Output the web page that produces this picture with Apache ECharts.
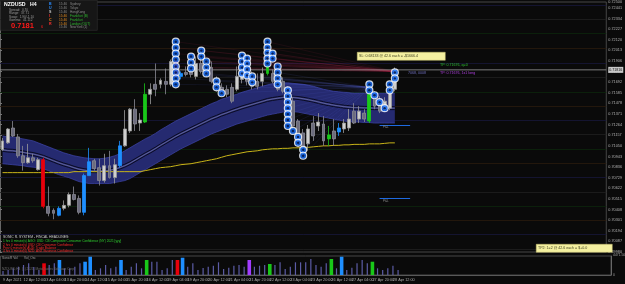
<!DOCTYPE html>
<html><head><meta charset="utf-8">
<script src="https://cdn.jsdelivr.net/npm/echarts/dist/echarts.min.js"></script>
<style>html,body{margin:0;padding:0;background:#0a0a0a;}#c{width:625px;height:284px;}</style>
</head><body><div id="c"></div>
<script>
// ---------- DATA ----------
const timeLabels = ['9 Apr 2021','12 Apr 12:00','13 Apr 04:00','13 Apr 20:00','14 Apr 12:00','15 Apr 04:00','15 Apr 20:00','16 Apr 12:00','19 Apr 04:00','19 Apr 20:00','20 Apr 12:00','21 Apr 04:00','21 Apr 20:00','22 Apr 12:00','23 Apr 04:00','23 Apr 20:00','26 Apr 12:00','27 Apr 04:00','27 Apr 20:00','28 Apr 12:00'];
// candle kind: w bull, g bear, r red spike, b blue spike, G green spike
const kind = ['w','w','g','g','g','w','g','w','r','g','g','b','w','w','g','g','b','b','g','g','w','g','w','b','w','w','g','w','G','w','g','w','g','w','r','b','g','g','w','g','g','g','g','g','g','g','w','w','g','g','g','w','G','g','g','g','g','g','g','g','w','g','w','g','G','g','b','w','w','g','w','g','G','g','g','w','w','w'];
const openP = [.7101,.7108,.7123,.7114,.7095,.7088,.7093,.7081,.7091,.7044,.7040,.7035,.7042,.7045,.7056,.7052,.7038,.7075,.7090,.7083,.7070,.7085,.7073,.7085,.7105,.7120,.7142,.7128,.7129,.7157,.7167,.7167,.7170,.7167,.7190,.7175,.7179,.7180,.7175,.7188,.7184,.7184,.7170,.7164,.7162,.7164,.7162,.7172,.7178,.7175,.7170,.7170,.7178,.7178,.7173,.7170,.7162,.7150,.7130,.7118,.7107,.7128,.7125,.7127,.7112,.7120,.7119,.7122,.7123,.7140,.7132,.7138,.7130,.7155,.7150,.7142,.7143,.7162];
const closeP = [.7110,.7122,.7115,.7095,.7088,.7093,.7090,.7091,.7044,.7037,.7037,.7042,.7045,.7056,.7051,.7038,.7075,.7089,.7082,.7070,.7085,.7073,.7086,.7105,.7122,.7142,.7127,.7131,.7157,.7162,.7162,.7171,.7167,.7190,.7175,.7178,.7177,.7177,.7188,.7180,.7178,.7170,.7164,.7158,.7157,.7150,.7175,.7180,.7170,.7165,.7165,.7178,.7185,.7170,.7162,.7160,.7145,.7125,.7110,.7103,.7122,.7115,.7129,.7110,.7116,.7112,.7123,.7128,.7132,.7128,.7140,.7132,.7157,.7145,.7140,.7150,.7163,.7182];
const lowP = [.7100,.7107,.7114,.7093,.7080,.7087,.7088,.7080,.7042,.7034,.7031,.7034,.7040,.7043,.7050,.7036,.7035,.7075,.7080,.7065,.7068,.7072,.7067,.7083,.7104,.7118,.7120,.7120,.7128,.7147,.7155,.7163,.7157,.7165,.7172,.7172,.7175,.7174,.7172,.7178,.7175,.7168,.7160,.7155,.7154,.7148,.7160,.7168,.7166,.7162,.7162,.7165,.7176,.7168,.7160,.7158,.7142,.7122,.7105,.7095,.7100,.7110,.7120,.7105,.7105,.7105,.7115,.7118,.7120,.7127,.7128,.7129,.7128,.7142,.7138,.7140,.7141,.7160];
const highP = [.7113,.7123,.7130,.7117,.7105,.7107,.7097,.7093,.7093,.7064,.7042,.7044,.7050,.7058,.7064,.7055,.7077,.7103,.7092,.7092,.7097,.7100,.7092,.7110,.7141,.7143,.7152,.7138,.7168,.7168,.7188,.7173,.7183,.7192,.7195,.7180,.7185,.7188,.7195,.7202,.7190,.7190,.7175,.7168,.7166,.7168,.7185,.7188,.7190,.7180,.7178,.7184,.7190,.7182,.7178,.7174,.7165,.7154,.7132,.7122,.7126,.7135,.7138,.7135,.7125,.7132,.7128,.7132,.7142,.7148,.7145,.7142,.7167,.7160,.7155,.7154,.7166,.7184];
const bandUpper = [.71150,.71140,.71140,.71130,.71120,.71110,.71100,.71080,.71060,.71040,.71020,.71000,.70980,.70965,.70950,.70940,.70930,.70925,.70920,.70920,.70925,.70935,.70950,.70970,.71000,.71030,.71060,.71090,.71120,.71145,.71175,.71210,.71240,.71270,.71300,.71325,.71350,.71375,.71400,.71425,.71450,.71475,.71495,.71520,.71535,.71555,.71570,.71590,.71605,.71620,.71635,.71650,.71665,.71675,.71680,.71685,.71685,.71680,.71675,.71670,.71660,.71650,.71635,.71620,.71610,.71600,.71595,.71590,.71585,.71580,.71580,.71580,.71580,.71580,.71580,.71580,.71580,.71580];
const bandLower = [.70870,.70865,.70860,.70855,.70850,.70840,.70835,.70830,.70820,.70800,.70780,.70760,.70745,.70730,.70710,.70690,.70680,.70670,.70670,.70670,.70670,.70670,.70680,.70690,.70700,.70720,.70750,.70780,.70810,.70840,.70870,.70900,.70930,.70960,.70990,.71020,.71045,.71070,.71095,.71120,.71145,.71170,.71190,.71210,.71230,.71250,.71270,.71285,.71300,.71315,.71330,.71345,.71360,.71370,.71380,.71390,.71395,.71395,.71390,.71380,.71370,.71360,.71350,.71340,.71330,.71320,.71310,.71300,.71295,.71290,.71290,.71285,.71285,.71280,.71280,.71280,.71280,.71280];
const yellowMA = [.70780,.70780,.70780,.70780,.70780,.70780,.70780,.70780,.70780,.70780,.70780,.70780,.70780,.70780,.70790,.70790,.70790,.70790,.70790,.70790,.70790,.70790,.70790,.70790,.70790,.70790,.70790,.70790,.70800,.70810,.70820,.70830,.70835,.70840,.70850,.70860,.70865,.70870,.70880,.70890,.70900,.70910,.70920,.70935,.70950,.70960,.70970,.70980,.70990,.70995,.71000,.71010,.71015,.71020,.71020,.71025,.71025,.71030,.71030,.71035,.71035,.71040,.71045,.71050,.71050,.71055,.71055,.71060,.71060,.71065,.71065,.71065,.71070,.71070,.71070,.71075,.71080,.71080];
const volume = [940,1175,1575,1950,2350,2750,1880,1175,2750,2350,2750,3525,1575,1575,1950,2750,3125,4300,1175,1575,2350,1575,1950,3525,1175,1950,2750,1575,3525,3125,3125,1175,1575,3525,3525,4065,1950,2750,1175,1645,1950,2185,2985,1410,1715,2185,2350,1950,3525,1950,2185,2350,2585,2350,2985,1410,1950,2985,2985,2985,3760,2350,1950,2750,3760,1575,4300,1175,1715,2750,3525,2750,3125,1575,1175,1575,2185,1175];
const volKind = ['n','n','n','n','n','n','n','n','r','n','n','b','n','n','n','n','b','b','n','n','n','n','n','b','n','n','n','n','G','n','n','n','n','n','r','b','n','n','n','n','n','n','n','n','n','n','n','n','p','n','n','n','G','n','n','n','n','n','n','n','n','n','n','n','G','n','b','n','n','n','n','n','G','n','n','n','n','n'];
// dot columns: bar index + price levels
const dotBars   = [34,37,39,40,42,43,47,48,49,52,53,54,56,57,58,59,72,73,74,75,76,77];
const dotLevels = [
 [.7210,.7204,.7198,.7192,.7185,.7179,.7173,.7167],[.7195,.7189,.7183],[.7201,.7195],[.7190,.7184,.7178],[.7170,.7164],[.7158],
 [.7196,.7190,.7184,.7178],[.7193,.7188,.7182,.7176],[.7175,.7169],[.7210,.7204,.7199,.7193,.7188],[.7198,.7193],[.7185,.7179,.7173,.7167],
 [.7161,.7155,.7149,.7143,.7137,.7131,.7125],[.7120],[.7114,.7108],[.7101,.7095],[.7167,.7161],[.7156],[.7149],[.7143],[.7167,.7161],[.7179,.7173]];
// horizontal levels (navy, grey, green, brown cycle)
const levelPrices = [.72470,.72330,.72180,.72030,.71880,.71740,.71590,.71450,.71310,.71170,.71020,.70870,.70730,.70580,.70440,.70300,.70160,.70010];
const levelKinds  = ['o','v','k','e','o','v','k','e','o','v','k','e','o','v','k','e','o','v'];
const bidPrice = 0.71816;
const pivotLines = [0.71260, 0.70520];
const priceMin = 0.69980, priceMax = 0.72500, priceStep = 0.00107;
const volMax = 4471.5;

// ---------- BUILD ----------
const NCAT = 119;
const cats = Array.from({length: NCAT}, (_, i) => String(i));
const kindColor = {r:'#e8000b', b:'#1e8fff', G:'#19c819', p:'#a23cff'};
const candleData = kind.map((k, i) => {
  const it = {value: [openP[i], closeP[i], lowP[i], highP[i]]};
  if (kindColor[k]) it.itemStyle = {color: kindColor[k], color0: kindColor[k], borderColor: kindColor[k], borderColor0: kindColor[k]};
  return it;
});
const dots = [];
dotBars.forEach((b, j) => dotLevels[j].forEach(p => dots.push([b, p])));
const fan = [];
dots.forEach(d => {
  if (d[0] > 59) return;
  const red = d[1] >= 0.7180;
  fan.push({coords: [d, red ? [77, 0.7180] : [72, 0.7164]], lineStyle: {color: red ? '#b0284a' : '#5a66d8'}});
});
const levelColor = {v:'#1f1f1f', k:'#0b260b', e:'#2a1b0c', o:'#16163a'};
const levelLines = levelPrices.map((p, i) => ({coords: [[0, p], [1, p]], lineStyle: {color: levelColor[levelKinds[i]]}}));
const center = bandUpper.map((u, i) => (u + bandLower[i]) / 2);
const bandDiff = bandUpper.map((u, i) => u - bandLower[i]);
const volNormal = volume.map((v, i) => volKind[i] === 'n' ? v : '-');
const volSpike = volume.map((v, i) => volKind[i] !== 'n' ? {value: v, itemStyle: {color: kindColor[volKind[i]]}} : '-');

const F = 'Liberation Sans, Arial, sans-serif';
function txt(x, y, s, fill, size, weight) {
  return {type:'text', left:x, top:y, silent:true, z:100, style:{text:s, fill:fill, fontSize:size||3.6, fontFamily:F, fontWeight:weight||'normal'}};
}
const graphics = [
  {type:'rect', left:0, top:0, z:99, shape:{width:97, height:30}, style:{fill:'#161616', stroke:'#303030', lineWidth:0.6}},
  txt(4, 2, 'NZDUSD   H4', '#ffffff', 5.2, 'bold'),
  txt(9, 8.5, 'Spread:  0.70', '#9a9a9a', 3.2),
  txt(9, 12, 'Range:  37.71', '#9a9a9a', 3.2),
  txt(9, 15.5, 'Swap:  1.90/-1.10', '#9a9a9a', 3.2),
  txt(9, 19, 'Gamma:  41.112', '#9a9a9a', 3.2),
  txt(11, 21.5, '0.7181', '#ff1a1a', 7.5, 'bold'),
  txt(41, 24.5, '6', '#ff1a1a', 4),
  txt(49, 2, 'B', '#2a8cff', 3.6, 'bold'), txt(49, 6, 'U', '#2a8cff', 3.6, 'bold'), txt(49, 10, 'S', '#c8c8c8', 3.6, 'bold'),
  txt(49, 14, 'I', '#ff3030', 3.6, 'bold'), txt(49, 18, 'C', '#ff8c1a', 3.6, 'bold'), txt(49, 22, 'R', '#ff3030', 3.6, 'bold'),
  txt(59, 2.5, '15:46', '#8a8a8a', 3.2), txt(70, 2.5, 'Sydney', '#8a8a8a', 3.2),
  txt(59, 6.5, '15:46', '#8a8a8a', 3.2), txt(70, 6.5, 'Tokyo', '#8a8a8a', 3.2),
  txt(59, 10.5, '15:46', '#8a8a8a', 3.2), txt(70, 10.5, 'HongKong', '#8a8a8a', 3.2),
  txt(59, 14.5, '15:46', '#e08a20', 3.2), txt(70, 14.5, 'Frankfurt (B)', '#2fb82f', 3.2),
  txt(59, 18.5, '15:46', '#e08a20', 3.2), txt(70, 18.5, 'Frankfurt', '#2fb82f', 3.2),
  txt(59, 22.5, '15:46', '#e08a20', 3.2), txt(70, 22.5, 'London (OUT)', '#2fb82f', 3.2),
  txt(59, 26, '15:46', '#8a8a8a', 3.2), txt(70, 26, 'NewYork (1)', '#8a8a8a', 3.2),
  // headlines
  txt(3, 235.5, 'SONIC R. SYSTEM - FINCAL HEADLINES:', '#d0d0d0', 3.4),
  txt(3, 240, '1 hrs 0 minute(s) AGO: USD: CB Composite Consumer Confidence (NY) 2021 [yyy]', '#2fd02f', 3.2),
  txt(3, 243.3, '2 hrs 0 minute(s) USD: CB Consumer Confidence', '#ff2a2a', 3.2),
  txt(3, 246.6, 'Prev 0 minute(s) AUD: Trade Balance', '#ff2a2a', 3.2),
  txt(3, 249.9, '4 hrs 0 minute(s) NZD: ANZ Business Confidence', '#ff2a2a', 3.2),
  // volume panel header / copyright
  txt(2, 257, 'SonicR Vol', '#a0a0a0', 3.2), txt(24, 257, 'Vol_Osc', '#a0a0a0', 3.2),
  txt(2, 268, 'NZDUSD,H4  (c) 2021, MetaQuotes Software Corp.', '#6a6a6a', 3.2),
  // trade boxes
  {type:'rect', left:357, top:52, z:99, shape:{width:88, height:8}, style:{fill:'#f4f0a0', stroke:'#c8c070', lineWidth:0.5}},
  txt(359, 53.5, 'SL: 0.68133 @ 42.6 each = -$1666.4', '#404020', 3.6),
  {type:'rect', left:536, top:244, z:99, shape:{width:76, height:8}, style:{fill:'#f4f0a0', stroke:'#c8c070', lineWidth:0.5}},
  txt(538, 245.5, 'TP2: 1=2 @ 42.6 each = $+0.0', '#404020', 3.6),
  txt(440, 62.5, 'TP: 0.71676, q=0', '#2fc02f', 3.6),
  txt(408, 71, '7068, 0008', '#7070c0', 3.6),
  txt(440, 71, 'TP: 0.71676, 1x1 long', '#b040e0', 3.6),
  txt(383, 125.5, 'P&L', '#8a8a8a', 3),
  txt(383, 199.5, 'P&L', '#8a8a8a', 3),
  txt(613, 254, volMax.toFixed(2), '#a0a0a0', 3.4)
];

const option = {
  backgroundColor: '#0a0a0a',
  animation: false,
  grid: [
    {left: 0, top: 0, width: 611, height: 252, show: true, borderColor: '#555', borderWidth: 0.8, backgroundColor: 'transparent'},
    {left: 0, top: 256, width: 611, height: 19, show: true, borderColor: '#555', borderWidth: 0.8}
  ],
  xAxis: [
    {type: 'category', data: cats, gridIndex: 0, boundaryGap: true, axisLine: {show: false}, axisTick: {show: false}, axisLabel: {show: false}},
    {type: 'category', data: cats, gridIndex: 1, boundaryGap: true, axisLine: {show: true, lineStyle: {color: '#666', width: 0.8}}, axisTick: {show: false},
      axisLabel: {show: true, interval: 0, color: '#a8a8a8', fontSize: 3.8, fontFamily: F, align: 'left', margin: 2.5, hideOverlap: false,
        formatter: (v, i) => (i < kind.length && i % 4 === 0) ? timeLabels[i / 4] : ''}},
    {type: 'category', data: cats, gridIndex: 1, boundaryGap: true, show: false},
    {type: 'value', gridIndex: 0, min: 0, max: 1, show: false}
  ],
  yAxis: [
    {type: 'value', gridIndex: 0, position: 'right', min: priceMin, max: priceMax, interval: priceStep,
      axisLine: {show: true, lineStyle: {color: '#777', width: 0.8}}, axisTick: {show: true, length: 2, lineStyle: {color: '#777'}},
      axisLabel: {color: '#b0b0b0', fontSize: 3.8, fontFamily: F, margin: 2, formatter: v => v.toFixed(5)}, splitLine: {show: false}},
    {type: 'value', gridIndex: 1, position: 'right', min: 0, max: volMax, interval: volMax,
      axisLine: {show: true, lineStyle: {color: '#777', width: 0.8}}, axisTick: {show: false},
      axisLabel: {color: '#a0a0a0', fontSize: 3.4, fontFamily: F, margin: 2, formatter: v => v === 0 ? '0' : ''}, splitLine: {show: false}}
  ],
  graphic: graphics,
  series: [
    {type: 'lines', coordinateSystem: 'cartesian2d', xAxisIndex: 3, yAxisIndex: 0, data: levelLines, lineStyle: {width: 0.8, opacity: 1}, z: 1, silent: true},
    {type: 'line', data: bandLower, stack: 'band', symbol: 'none', lineStyle: {width: 0}, z: 2},
    {type: 'line', data: bandDiff, stack: 'band', symbol: 'none', lineStyle: {width: 0}, areaStyle: {color: '#252a70', opacity: 1}, z: 2},
    {type: 'line', data: bandUpper, symbol: 'none', lineStyle: {color: '#3a40a0', width: 0.8}, z: 3},
    {type: 'line', data: bandLower, symbol: 'none', lineStyle: {color: '#3a40a0', width: 0.8}, z: 3},
    {type: 'line', data: center.map(c => c + 0.00015), symbol: 'none', lineStyle: {color: '#0a0b22', width: 1}, z: 3},
    {type: 'line', data: center.map(c => c - 0.00015), symbol: 'none', lineStyle: {color: '#0a0b22', width: 1}, z: 3},
    {type: 'line', data: center, symbol: 'none', lineStyle: {color: '#8a8ab4', width: 0.6}, z: 3},
    {type: 'line', data: yellowMA, symbol: 'none', lineStyle: {color: '#c8b418', width: 1}, z: 3},
    {type: 'lines', coordinateSystem: 'cartesian2d', data: fan, lineStyle: {width: 0.5, type: 'dotted', opacity: 0.45}, z: 4, silent: true},
    {type: 'line', xAxisIndex: 3, yAxisIndex: 0, data: [[0, bidPrice], [1, bidPrice]], symbol: 'none', lineStyle: {color: '#9a9a9a', width: 0.8}, z: 4, silent: true,
      endLabel: {show: true, formatter: () => bidPrice.toFixed(5), color: '#111', backgroundColor: '#c8c8c8', fontSize: 3.6, fontFamily: F, padding: [1, 1], distance: 2}},
    {type: 'candlestick', data: candleData, barWidth: 3.4, z: 5,
      itemStyle: {color: '#cfcfcf', color0: '#6c6c7e', borderColor: '#9a9a9a', borderColor0: '#8a8a94', borderWidth: 0.8},
      markLine: {silent: true, symbol: 'none', animation: false, label: {show: false},
        data: [
          [{coord: [74, pivotLines[0]], lineStyle: {color: '#1e6ae0', width: 1, type: 'solid'}}, {coord: [80, pivotLines[0]]}],
          [{coord: [74, pivotLines[1]], lineStyle: {color: '#1e6ae0', width: 1, type: 'solid'}}, {coord: [80, pivotLines[1]]}]
        ]}},
    {type: 'scatter', data: dots, symbolSize: 7, itemStyle: {color: '#1670ff', borderColor: '#ffffff', borderWidth: 1.2}, z: 6},
    {type: 'scatter', data: dots, symbolSize: 2.4, itemStyle: {color: '#02103a'}, z: 7},
    {type: 'bar', xAxisIndex: 1, yAxisIndex: 1, data: volNormal, barWidth: 1.2, itemStyle: {color: '#5c5ca6'}},
    {type: 'bar', xAxisIndex: 2, yAxisIndex: 1, data: volSpike, barWidth: 3.6}
  ]
};
const chart = echarts.init(document.getElementById('c'), null, {renderer: 'canvas'});
chart.setOption(option);
</script></body></html>
